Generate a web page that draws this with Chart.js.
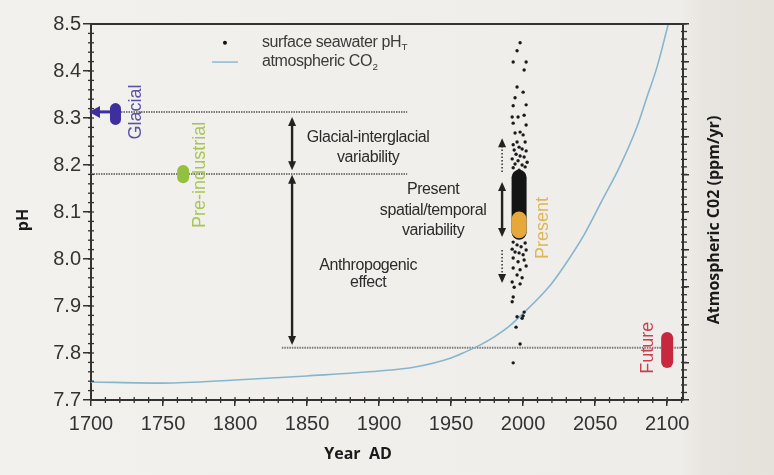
<!DOCTYPE html>
<html>
<head>
<meta charset="utf-8">
<script src="https://cdn.jsdelivr.net/npm/chart.js@4.4.0/dist/chart.umd.min.js"></script>
<style>
    html, body { margin: 0; padding: 0; background: #ebe8e3; }
    #wrap { width: 774px; height: 475px; position: relative; }
</style>
</head>
<body>
<div id="wrap"><canvas id="chart"></canvas></div>
<script>
// axis ticks
const xTicks = [1700, 1750, 1800, 1850, 1900, 1950, 2000, 2050, 2100];
const phTicks = [7.7, 7.8, 7.9, 8.0, 8.1, 8.2, 8.3, 8.4, 8.5];
const co2Ticks = [230, 330, 430, 530, 630, 730, 830, 930, 1030, 1130, 1230];

// atmospheric CO2 curve (right axis, unlabelled)
const co2Years = [1700, 1750, 1800, 1850, 1900, 1925, 1950, 1960, 1970, 1980, 1990, 1998, 2019, 2029, 2043, 2055, 2067, 2079, 2086, 2093, 2101];
const co2Ppm   = [278, 275, 283, 294, 307, 318, 342, 358, 376, 398, 425, 453, 536, 589, 674, 762, 850, 956, 1036, 1116, 1233];

// surface seawater pH measurements
const phYears = [
    1997.9, 1995.8, 1993.1, 2002.1, 2000.7, 1995.8, 2000.0, 1994.4, 1993.1, 2002.1,
    1992.4, 1996.5, 2000.7, 1993.1, 2002.1, 1994.4, 1997.9, 2000.0, 1995.8, 2001.4,
    1993.1, 1997.2, 1999.3, 1993.8, 2002.1, 1995.1, 1997.9, 2000.7, 1992.4, 1996.5,
    2002.8, 1994.4, 1999.3, 1993.1, 2001.4, 1997.2,
    1993.1, 2001.4, 1995.8, 1998.6, 1992.4, 2002.1, 1994.4, 1997.2, 2000.0, 1993.1,
    1996.5, 2000.7, 1993.1, 1997.9, 2002.1, 1995.8, 1999.3, 1992.4, 1993.8, 1997.9,
    1993.1, 1992.4, 2000.7, 2000.0, 1995.8, 1999.3, 1995.1, 1997.9, 1993.1
];
const phValues = [
    8.460, 8.443, 8.419, 8.419, 8.402, 8.366, 8.355, 8.343, 8.326, 8.328,
    8.302, 8.302, 8.306, 8.289, 8.285, 8.268, 8.270, 8.264, 8.249, 8.249,
    8.243, 8.238, 8.234, 8.232, 8.230, 8.223, 8.219, 8.217, 8.213, 8.209,
    8.206, 8.202, 8.200, 8.194, 8.196, 8.189,
    8.036, 8.034, 8.030, 8.026, 8.021, 8.019, 8.015, 8.013, 8.009, 8.002,
    7.994, 7.998, 7.981, 7.977, 7.985, 7.966, 7.960, 7.951, 7.940, 7.947,
    7.919, 7.909, 7.887, 7.879, 7.877, 7.874, 7.855, 7.819, 7.779
];

// dense band of present-day values
const bandYear = 1997.2;
const bandRange = [8.057, 8.174];

// reference levels (dotted lines)
const refNames = ['Glacial', 'Pre-industrial', 'Future'];
const refPh = [8.313, 8.181, 7.811];
const refStart = [1700, 1700, 1832.5];
const refEnd = [1919.5, 1919.5, 2111];

// state markers
const markerNames = ['Glacial', 'Pre-industrial', 'Present', 'Future'];
const markerYears = [1717, 1764, 1997.2, 2100];
const markerLow = [8.297, 8.174, 8.060, 7.781];
const markerHigh = [8.320, 8.187, 8.085, 7.832];
const markerLabelYears = [1731, 1775.5, 2014, 2086.8];
const markerLabelPh = [8.313, 8.179, 8.066, 7.811];

// double arrows: tail, tip
const arrowYears = [1839.6, 1839.6, 1985.4, 1985.4, 1985.4];
const arrowTail = [8.189, 7.817, 8.047, 8.185, 8.019];
const arrowTip = [8.302, 8.179, 8.164, 8.257, 7.949];
const arrowBoth = [true, true, true, false, false];
const arrowDotted = [false, false, false, true, true];

// text notes
const noteText = ['Glacial-interglacial', 'variability', 'Present', 'spatial/temporal', 'variability', 'Anthropogenic', 'effect'];
const noteYears = [1892.4, 1892.4, 1937.5, 1937.5, 1937.5, 1892.4, 1892.4];
const notePh = [8.258, 8.216, 8.147, 8.103, 8.060, 7.987, 7.950];

const markerColors = ['#3d2f9e', '#93c13f', '#e6a83a', '#c8283e'];
const labelColors = ['#5a52a5', '#a9c459', '#dcb65a', '#c9404f'];
const markerWidths = [11, 12, 15, 12];

const datasets = [];
markerNames.forEach((name, i) => {
    datasets.push({
        type: 'line',
        label: name,
        data: [{ x: markerYears[i], y: markerLow[i] }, { x: markerYears[i], y: markerHigh[i] }],
        borderColor: markerColors[i],
        borderWidth: markerWidths[i],
        borderCapStyle: 'round',
        pointRadius: 0,
        yAxisID: 'y'
    });
});
datasets.push({
    type: 'line',
    label: 'present band',
    data: [{ x: bandYear, y: bandRange[0] }, { x: bandYear, y: bandRange[1] }],
    borderColor: '#141414',
    borderWidth: 15,
    borderCapStyle: 'round',
    pointRadius: 0,
    yAxisID: 'y'
});
datasets.push({
    type: 'scatter',
    label: 'surface seawater pH',
    data: phYears.map((yr, i) => ({ x: yr, y: phValues[i] })),
    backgroundColor: '#1a1a1a',
    borderWidth: 0,
    pointRadius: 1.7,
    yAxisID: 'y'
});
datasets.push({
    type: 'line',
    label: 'atmospheric CO2',
    data: co2Years.map((yr, i) => ({ x: yr, y: co2Ppm[i] })),
    borderColor: '#86b6cf',
    borderWidth: 1.6,
    pointRadius: 0,
    cubicInterpolationMode: 'monotone',
    yAxisID: 'y2'
});
refNames.forEach((name, i) => {
    datasets.push({
        type: 'line',
        label: name + ' level',
        data: [{ x: refStart[i], y: refPh[i] }, { x: refEnd[i], y: refPh[i] }],
        borderColor: '#7a7a7a',
        borderWidth: 2,
        borderDash: [1.5, 1],
        pointRadius: 0,
        yAxisID: 'y'
    });
});

const background = {
    id: 'background',
    beforeDraw(chart) {
        const { ctx, width, height } = chart;
        const g = ctx.createLinearGradient(0, 0, width, 0);
        g.addColorStop(0, '#f2f1ed');
        g.addColorStop(0.88, '#efede9');
        g.addColorStop(0.91, '#e8e5e0');
        g.addColorStop(1, '#e5e2dc');
        ctx.save();
        ctx.fillStyle = g;
        ctx.fillRect(0, 0, width, height);
        ctx.restore();
    }
};

function minor(ctx, scale, from, to, step, horizontal, at, a, b) {
    for (let v = from; v <= to + 1e-9; v += step) {
        const p = scale.getPixelForValue(v);
        ctx.beginPath();
        if (horizontal) { ctx.moveTo(p, at - a); ctx.lineTo(p, at + b); }
        else { ctx.moveTo(at - a, p); ctx.lineTo(at + b, p); }
        ctx.stroke();
    }
}

function arrowHead(ctx, x, y, dir) {
    ctx.beginPath();
    ctx.moveTo(x, y);
    ctx.lineTo(x - 4, y - dir * 9);
    ctx.lineTo(x + 4, y - dir * 9);
    ctx.closePath();
    ctx.fill();
}

function sub(ctx, x, y, main, small, size) {
    ctx.font = size + 'px "Liberation Sans", Arial, sans-serif';
    ctx.fillText(main, x, y);
    const w = ctx.measureText(main).width;
    ctx.font = (size * 0.62) + 'px "Liberation Sans", Arial, sans-serif';
    ctx.fillText(small, x + w + 0.5, y + size * 0.3);
}

const annotate = {
    id: 'annotate',
    afterDraw(chart) {
        const { ctx, chartArea: a, scales: { x, y, y2 } } = chart;
        const px = v => x.getPixelForValue(v);
        const py = v => y.getPixelForValue(v);
        ctx.save();

        // top frame
        ctx.strokeStyle = '#333';
        ctx.lineWidth = 2;
        ctx.beginPath();
        ctx.moveTo(a.left, a.top);
        ctx.lineTo(a.right + 1, a.top);
        ctx.stroke();

        // minor ticks
        ctx.lineWidth = 1.3;
        minor(ctx, x, 1710, 2110, 10, true, a.bottom, 3, 3);
        minor(ctx, y, 7.72, 8.48, 0.02, false, a.left, 3, 3);
        minor(ctx, y2, 250, 1230, 20, false, a.right, 2, 4);

        // arrows
        ctx.strokeStyle = '#222';
        ctx.fillStyle = '#222';
        arrowYears.forEach((yr, i) => {
            const ax = px(yr);
            const t0 = py(arrowTail[i]);
            const t1 = py(arrowTip[i]);
            const dir = t1 > t0 ? 1 : -1;
            ctx.lineWidth = arrowDotted[i] ? 1.4 : 2.4;
            ctx.setLineDash(arrowDotted[i] ? [1.5, 2] : []);
            ctx.beginPath();
            ctx.moveTo(ax, arrowBoth[i] ? t0 + dir * 6 : t0);
            ctx.lineTo(ax, t1 - dir * 6);
            ctx.stroke();
            ctx.setLineDash([]);
            arrowHead(ctx, ax, t1, dir);
            if (arrowBoth[i]) arrowHead(ctx, ax, t0, -dir);
        });

        // glacial arrow to the axis
        const gy = py(refPh[0]);
        ctx.strokeStyle = markerColors[0];
        ctx.fillStyle = markerColors[0];
        ctx.lineWidth = 3;
        ctx.beginPath();
        ctx.moveTo(px(markerYears[0]), gy);
        ctx.lineTo(a.left + 8, gy);
        ctx.stroke();
        ctx.beginPath();
        ctx.moveTo(a.left - 2, gy);
        ctx.lineTo(a.left + 9, gy - 6);
        ctx.lineTo(a.left + 9, gy + 6);
        ctx.closePath();
        ctx.fill();

        // notes
        ctx.fillStyle = '#2b2b2b';
        ctx.textAlign = 'center';
        ctx.textBaseline = 'middle';
        ctx.letterSpacing = '-0.4px';
        ctx.font = '16px "Liberation Sans", Arial, sans-serif';
        noteText.forEach((t, i) => ctx.fillText(t, px(noteYears[i]), py(notePh[i])));

        // rotated marker labels
        ctx.font = '18px "Liberation Sans", Arial, sans-serif';
        ctx.letterSpacing = '0px';
        markerNames.forEach((t, i) => {
            ctx.save();
            ctx.translate(px(markerLabelYears[i]), py(markerLabelPh[i]));
            ctx.rotate(-Math.PI / 2);
            ctx.fillStyle = labelColors[i];
            ctx.fillText(t, 0, 0);
            ctx.restore();
        });

        // legend
        const lx = px(1793), ly1 = py(8.46), ly2 = py(8.419);
        ctx.fillStyle = '#111';
        ctx.beginPath();
        ctx.arc(lx, ly1, 2, 0, Math.PI * 2);
        ctx.fill();
        ctx.strokeStyle = '#9cc3d6';
        ctx.lineWidth = 1.8;
        ctx.beginPath();
        ctx.moveTo(lx - 13, ly2);
        ctx.lineTo(lx + 13, ly2);
        ctx.stroke();
        ctx.fillStyle = '#3a3a3a';
        ctx.textAlign = 'left';
        ctx.letterSpacing = '-0.4px';
        sub(ctx, lx + 37, ly1, 'surface seawater pH', 'T', 16);
        sub(ctx, lx + 37, ly2, 'atmospheric CO', '2', 16);

        // axis titles
        ctx.letterSpacing = '0px';
        ctx.fillStyle = '#1a1a1a';
        ctx.textAlign = 'center';
        ctx.font = 'bold 16px "Open Sans", sans-serif';
        ctx.fillText('Year  AD', 358, 454);
        ctx.save();
        ctx.translate(23, 220);
        ctx.rotate(-Math.PI / 2);
        ctx.fillText('pH', 0, 0);
        ctx.restore();
        ctx.save();
        ctx.translate(714, 220);
        ctx.rotate(-Math.PI / 2);
        ctx.fillText('Atmospheric C02 (ppm/yr)', 0, 0);
        ctx.restore();

        ctx.restore();
    }
};

new Chart(document.getElementById('chart'), {
    type: 'scatter',
    data: { datasets },
    options: {
        responsive: true,
        maintainAspectRatio: false,
        animation: false,
        layout: { padding: { top: 24 } },
        plugins: { legend: { display: false }, tooltip: { enabled: false } },
        scales: {
            x: {
                type: 'linear',
                min: 1700,
                max: 2111,
                afterBuildTicks: s => { s.ticks = xTicks.map(v => ({ value: v })); },
                afterFit: s => { s.height = 75; },
                grid: { drawOnChartArea: false, tickLength: 6, color: '#333', lineWidth: 1.5 },
                border: { color: '#333', width: 2 },
                ticks: { color: '#333', padding: 6, maxRotation: 0, autoSkip: false,
                         callback: v => String(v),
                         font: { family: '"Liberation Sans", Arial', size: 20 } }
            },
            y: {
                min: 7.7,
                max: 8.5,
                afterBuildTicks: s => { s.ticks = phTicks.map(v => ({ value: v })); },
                afterFit: s => { s.width = 91; },
                grid: { drawOnChartArea: false, tickLength: 8, color: '#333', lineWidth: 1.5 },
                border: { color: '#333', width: 2 },
                ticks: { color: '#333', padding: 2, callback: v => v.toFixed(1),
                         font: { family: '"Liberation Sans", Arial', size: 20 } }
            },
            y2: {
                position: 'right',
                min: 230,
                max: 1230,
                afterBuildTicks: s => { s.ticks = co2Ticks.map(v => ({ value: v })); },
                afterFit: s => { s.width = 91; },
                grid: { drawOnChartArea: false, tickLength: 6, color: '#333', lineWidth: 1.5 },
                border: { color: '#333', width: 2 },
                ticks: { display: false }
            }
        }
    },
    plugins: [background, annotate]
});
</script>
</body>
</html>
